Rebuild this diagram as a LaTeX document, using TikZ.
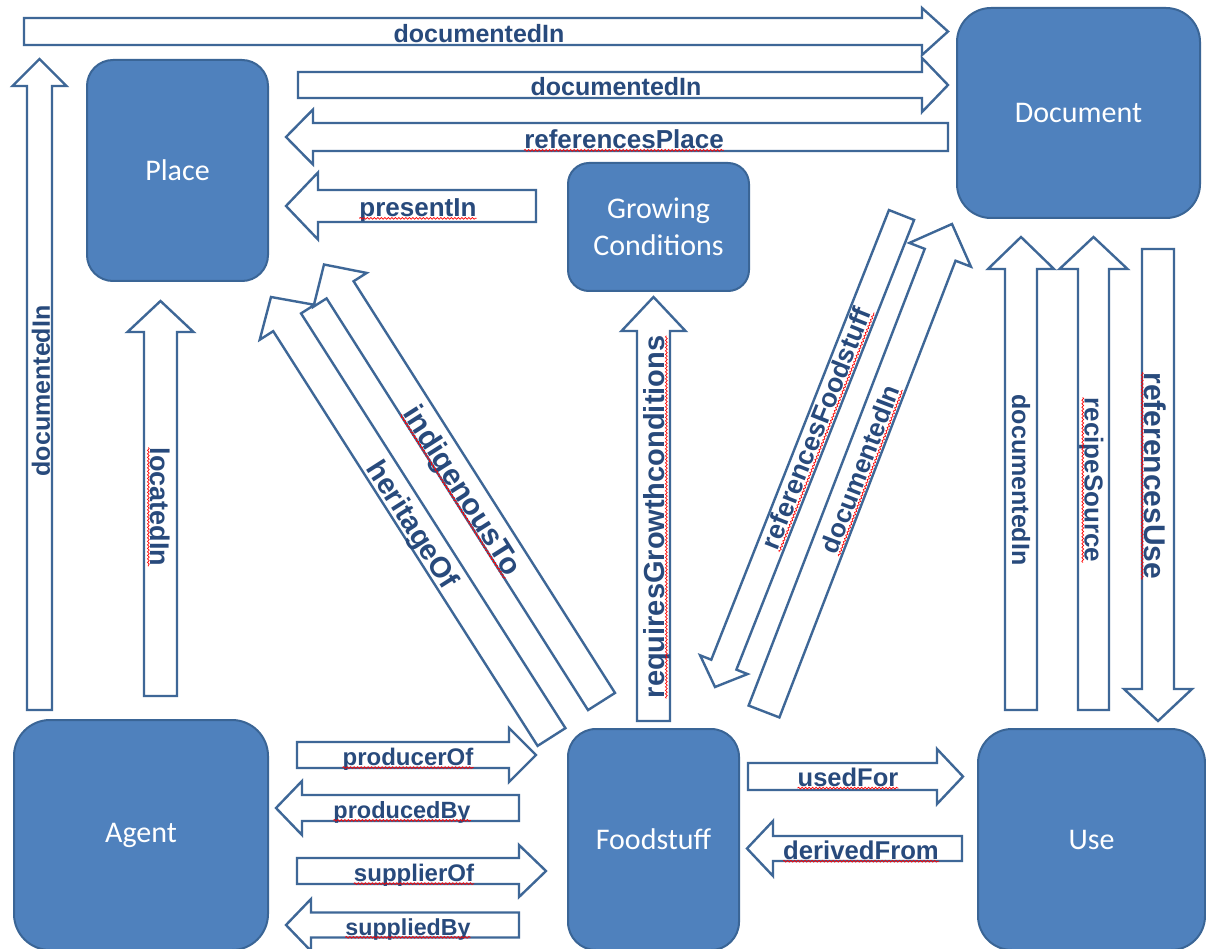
\documentclass[tikz,border=0pt]{standalone}
\usepackage{fontspec}
\newfontfamily\boxfont{Carlito}
\newfontfamily\lblfont{Liberation Sans}
\usetikzlibrary{calc,decorations.pathmorphing}
\definecolor{boxfill}{HTML}{4F81BD}
\definecolor{boxline}{HTML}{3A6596}
\definecolor{arrline}{HTML}{3E6797}
\definecolor{lbltext}{HTML}{284A7C}
\newcommand\arrlabel[2]{\fontsize{#1}{#1}\selectfont\lblfont\bfseries\raisebox{0pt}[0.716em][0pt]{#2}}
% #1 tail coordinate, #2 tip coordinate, #3 shaft half width, #4 head half width, #5 head length
\newcommand\blockarr[5]{%
  \path ($(#2)!#5!(#1)$) coordinate (neck);
  \draw[barrow] ($(#1)!#3!90:(#2)$) -- ($(neck)!#3!90:(#2)$) -- ($(neck)!#4!90:(#2)$) -- (#2)
    -- ($(neck)!#4!-90:(#2)$) -- ($(neck)!#3!-90:(#2)$) -- ($(#1)!#3!-90:(#2)$) -- cycle;}
\newcommand\spellmark[1]{\draw[squigline] ($(#1.base west)!2pt!-90:(#1.base east)$) -- ($(#1.base east)!2pt!90:(#1.base west)$);}
\begin{document}
\begin{tikzpicture}[x=1pt,y=-1pt,
  box/.style={draw=boxline, fill=boxfill, line width=2pt, text=white,
    font=\boxfont\fontsize{30}{37}\selectfont, align=center, inner sep=0pt},
  barrow/.style={draw=arrline, fill=white, line width=2.4pt, line join=miter},
  lbl/.style={text=lbltext, inner sep=0pt, anchor=center},
  squigline/.style={draw=red, line width=0.7pt, decorate,
    decoration={snake, amplitude=0.9pt, segment length=3.5pt}}]
\useasboundingbox (0,0) rectangle (1206,949);
\fill[white] (0,0) rectangle (1206,949);
\clip (0,0) rectangle (1206,949);

% ---------- boxes ----------
\node[box, minimum width=181pt, minimum height=221pt, rounded corners=26pt] (place) at (177.5,170.5) {Place};
\node[box, minimum width=181pt, minimum height=128pt, rounded corners=21pt] (gc) at (658.5,227) {Growing\\Conditions};
\node[box, minimum width=243pt, minimum height=210pt, rounded corners=34pt] (doc) at (1078.5,113) {Document};
\node[box, minimum width=254pt, minimum height=230pt, rounded corners=36pt] (agent) at (141,835) {Agent};
\node[box, minimum width=171pt, minimum height=221pt, rounded corners=28pt] (food) at (653.5,839.5) {Foodstuff};
\node[box, minimum width=227pt, minimum height=221pt, rounded corners=34pt] (use) at (1091.5,839.5) {Use};

% ---------- arrow end points ----------
\coordinate (a1s) at (24,31.5);    \coordinate (a1e) at (948,31.5);
\coordinate (a2s) at (298,85);     \coordinate (a2e) at (948,85);
\coordinate (a3s) at (948,137);    \coordinate (a3e) at (286,137);
\coordinate (a4s) at (536,206);    \coordinate (a4e) at (286,206);
\coordinate (a5s) at (39.5,710);   \coordinate (a5e) at (39.5,59);
\coordinate (a6s) at (160.5,696);  \coordinate (a6e) at (160.5,301);
\coordinate (a7s) at (653.5,721);  \coordinate (a7e) at (653.5,297);
\coordinate (a8s) at (551.5,737);  \coordinate (a8e) at (271,297);
\coordinate (a9s) at (601.5,701.5);\coordinate (a9e) at (324,264.5);
\coordinate (a10s) at (901.5,215); \coordinate (a10e) at (715,687);
\coordinate (a11s) at (764,711.5); \coordinate (a11e) at (952,224);
\coordinate (a12s) at (1021,710);  \coordinate (a12e) at (1021,237);
\coordinate (a13s) at (1093.5,710);\coordinate (a13e) at (1093.5,237);
\coordinate (a14s) at (1158,249);  \coordinate (a14e) at (1158,721);
\coordinate (a15s) at (297,755);   \coordinate (a15e) at (536,755);
\coordinate (a16s) at (519,808);   \coordinate (a16e) at (276,808);
\coordinate (a17s) at (297,871);   \coordinate (a17e) at (546,871);
\coordinate (a18s) at (519,925);   \coordinate (a18e) at (286,925);
\coordinate (a19s) at (748,776.5); \coordinate (a19e) at (963,776.5);
\coordinate (a20s) at (962,848.5); \coordinate (a20e) at (747,848.5);

% ---------- block arrows ----------
\blockarr{a1s}{a1e}{13.5pt}{23.5pt}{26pt}
\blockarr{a2s}{a2e}{13pt}{27pt}{26pt}
\blockarr{a3s}{a3e}{14pt}{27.5pt}{27pt}
\blockarr{a4s}{a4e}{16pt}{33.5pt}{32pt}
\blockarr{a5s}{a5e}{12.5pt}{27pt}{27pt}
\blockarr{a6s}{a6e}{16.5pt}{33pt}{31pt}
\blockarr{a7s}{a7e}{16.5pt}{32pt}{34pt}
\blockarr{a8s}{a8e}{16.5pt}{32.5pt}{30pt}
\blockarr{a9s}{a9e}{16pt}{31.5pt}{30pt}
\blockarr{a10s}{a10e}{13.5pt}{25.5pt}{24pt}
\blockarr{a11s}{a11e}{16.5pt}{33pt}{33pt}
\blockarr{a12s}{a12e}{16pt}{33pt}{32pt}
\blockarr{a13s}{a13e}{15.5pt}{34pt}{32pt}
\blockarr{a14s}{a14e}{16pt}{34pt}{32pt}
\blockarr{a15s}{a15e}{13pt}{27pt}{27pt}
\blockarr{a16s}{a16e}{13pt}{27pt}{26pt}
\blockarr{a17s}{a17e}{13pt}{26pt}{27pt}
\blockarr{a18s}{a18e}{12.5pt}{26pt}{25pt}
\blockarr{a19s}{a19e}{13.5pt}{27.5pt}{26pt}
\blockarr{a20s}{a20e}{12.5pt}{27.5pt}{26pt}

% ---------- labels ----------
\node[lbl] (l1) at (479,34) {\arrlabel{25}{documentedIn}};
\node[lbl] (l2) at (616,87) {\arrlabel{25}{documentedIn}};
\node[lbl] (l3) at (624,139) {\arrlabel{26}{referencesPlace}};
\node[lbl] (l4) at (418,207) {\arrlabel{26}{presentIn}};
\node[lbl, rotate=90] (l5) at (41,391) {\arrlabel{25}{documentedIn}};
\node[lbl, rotate=-90] (l6) at (160,507) {\arrlabel{27}{locatedIn}};
\node[lbl, rotate=90] (l7) at (654,517) {\arrlabel{29}{requiresGrowthconditions}};
\node[lbl, rotate=-57.5] (l8) at (413.5,524) {\arrlabel{29}{heritageOf}};
\node[lbl, rotate=-57.6] (l9) at (463.5,490) {\arrlabel{30}{indigenousTo}};
\node[lbl, rotate=68.4] (l10) at (816,428) {\arrlabel{26.6}{referencesFoodstuff}};
\node[lbl, rotate=69] (l11) at (860,469) {\arrlabel{26}{documentedIn}};
\node[lbl, rotate=-90] (l12) at (1021,480) {\arrlabel{25}{documentedIn}};
\node[lbl, rotate=-90] (l13) at (1094,480) {\arrlabel{26}{recipeSource}};
\node[lbl, rotate=-90] (l14) at (1155,476) {\arrlabel{30}{referencesUse}};
\node[lbl] (l15) at (408,757) {\arrlabel{24}{producerOf}};
\node[lbl] (l16) at (402,810) {\arrlabel{23.5}{producedBy}};
\node[lbl] (l17) at (414,873) {\arrlabel{24}{supplierOf}};
\node[lbl] (l18) at (408,927) {\arrlabel{23.2}{suppliedBy}};
\node[lbl] (l19) at (848,777) {\arrlabel{25.5}{usedFor}};
\node[lbl] (l20) at (861,850) {\arrlabel{25.7}{derivedFrom}};

% ---------- spell-check underlines ----------
\foreach \n in {l3,l4,l6,l7,l9,l10,l11,l13,l14,l15,l16,l17,l18,l19,l20}{\spellmark{\n}}
\end{tikzpicture}
\end{document}
